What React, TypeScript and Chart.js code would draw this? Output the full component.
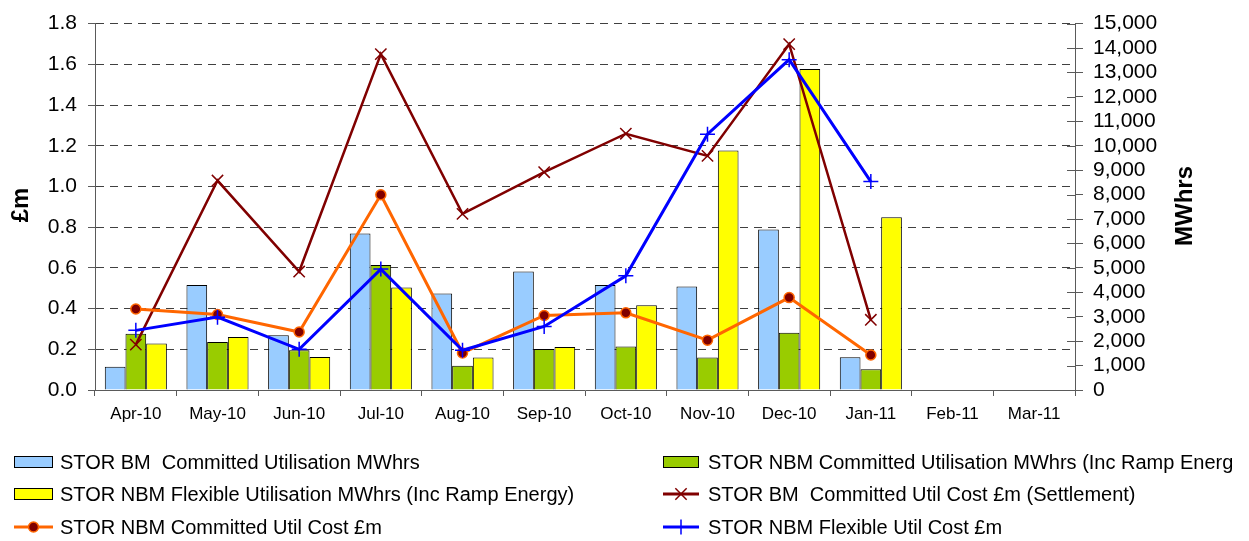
import React, { useEffect, useRef } from "react";
import { Chart, registerables } from "chart.js";

Chart.register(...registerables);

const months = ["Apr-10", "May-10", "Jun-10", "Jul-10", "Aug-10", "Sep-10", "Oct-10", "Nov-10", "Dec-10", "Jan-11", "Feb-11", "Mar-11"];

const bmCommittedMWh = [950, 4300, 2240, 6410, 3950, 4850, 4300, 4240, 6570, 1340, null, null];
const nbmCommittedMWh = [2300, 1960, 1630, 5120, 990, 1680, 1780, 1330, 2340, 850, null, null];
const nbmFlexibleMWh = [1900, 2170, 1350, 4200, 1330, 1760, 3470, 9800, 13140, 7070, null, null];

const bmCommittedCost = [0.223, 1.029, 0.582, 1.65, 0.865, 1.07, 1.259, 1.15, 1.699, 0.345, null, null];
const nbmCommittedCost = [0.398, 0.371, 0.285, 0.959, 0.182, 0.366, 0.379, 0.245, 0.454, 0.172, null, null];
const nbmFlexibleCost = [0.293, 0.358, 0.2, 0.594, 0.195, 0.312, 0.561, 1.257, 1.623, 1.024, null, null];

const seriesLabels = [
  "STOR BM  Committed Utilisation MWhrs",
  "STOR NBM Committed Utilisation MWhrs (Inc Ramp Energy)",
  "STOR NBM Flexible Utilisation MWhrs (Inc Ramp Energy)",
  "STOR BM  Committed Util Cost £m (Settlement)",
  "STOR NBM Committed Util Cost £m",
  "STOR NBM Flexible Util Cost £m",
];

const leftTitle = "£m";
const rightTitle = "MWhrs";

const FONT = '"Liberation Sans", Arial, sans-serif';
const AXIS = "#5a5a5a";
const GRID = "#404040";

function drawMarker(ctx: CanvasRenderingContext2D, style: string, x: number, y: number, r: number, stroke: string, fill: string, lw: number) {
  ctx.save();
  ctx.lineWidth = lw;
  ctx.strokeStyle = stroke;
  ctx.fillStyle = fill;
  ctx.beginPath();
  if (style === "crossRot") {
    const d = r * Math.SQRT1_2;
    ctx.moveTo(x - d, y - d); ctx.lineTo(x + d, y + d);
    ctx.moveTo(x - d, y + d); ctx.lineTo(x + d, y - d);
    ctx.stroke();
  } else if (style === "cross") {
    ctx.moveTo(x - r, y); ctx.lineTo(x + r, y);
    ctx.moveTo(x, y - r); ctx.lineTo(x, y + r);
    ctx.stroke();
  } else {
    ctx.arc(x, y, r, 0, Math.PI * 2);
    ctx.fill();
    ctx.stroke();
  }
  ctx.restore();
}

const overlayPlugin = {
  id: "overlay",
  afterDraw(chart: any) {
    const ctx: CanvasRenderingContext2D = chart.ctx;
    const area = chart.chartArea;
    const y1 = chart.scales.y1;
    ctx.save();
    // inner half of the right axis ticks
    ctx.strokeStyle = AXIS;
    ctx.lineWidth = 1;
    y1.ticks.forEach((t: any) => {
      const py = Math.round(y1.getPixelForValue(t.value)) + 0.5;
      ctx.beginPath();
      ctx.moveTo(area.right - 8, py);
      ctx.lineTo(area.right, py);
      ctx.stroke();
    });
    // axis titles
    ctx.fillStyle = "#000";
    ctx.font = `bold 24px ${FONT}`;
    ctx.textAlign = "center";
    ctx.textBaseline = "middle";
    ctx.save();
    ctx.translate(21, 205);
    ctx.rotate(-Math.PI / 2);
    ctx.fillText(leftTitle, 0, 0);
    ctx.restore();
    ctx.save();
    ctx.translate(1185, 206);
    ctx.rotate(-Math.PI / 2);
    ctx.fillText(rightTitle, 0, 0);
    ctx.restore();

    // legend (clipped at its box's right edge, as in the reference)
    const rowsY = [462, 494, 527];
    const markX = [14, 663];
    const markW = [39, 36];
    const textX = [60, 708];
    ctx.beginPath();
    ctx.rect(0, 430, 1232, 111);
    ctx.clip();
    ctx.font = `20px ${FONT}`;
    ctx.textAlign = "left";
    ctx.textBaseline = "middle";
    chart.data.datasets.forEach((ds: any, i: number) => {
      const col = i % 2;
      const row = Math.floor(i / 2);
      const x0 = markX[col];
      const y = rowsY[row];
      const w = markW[col];
      if (ds.type === "bar") {
        ctx.fillStyle = ds.backgroundColor;
        ctx.fillRect(x0, y - 6, w, 12);
        ctx.strokeStyle = "#000";
        ctx.lineWidth = 1;
        ctx.strokeRect(x0 + 0.5, y - 5.5, w - 1, 11);
      } else {
        ctx.strokeStyle = ds.borderColor;
        ctx.lineWidth = 3;
        ctx.beginPath();
        ctx.moveTo(x0, y);
        ctx.lineTo(x0 + w, y);
        ctx.stroke();
        drawMarker(ctx, ds.pointStyle, x0 + w / 2, y, ds.pointRadius, ds.pointBorderColor, ds.pointBackgroundColor, ds.pointBorderWidth);
      }
      ctx.fillStyle = "#000";
      ctx.fillText(ds.label, textX[col], y + 1);
    });
    ctx.restore();
  },
};

export default function App() {
  const ref = useRef<HTMLCanvasElement | null>(null);

  useEffect(() => {
    if (!ref.current) return;
    const barCommon = { type: "bar" as const, yAxisID: "y1", borderColor: "#000", borderWidth: 1, barPercentage: 1, categoryPercentage: 0.76 };
    const chart = new Chart(ref.current, {
      type: "bar",
      data: {
        labels: months,
        datasets: [
          { ...barCommon, label: seriesLabels[0], data: bmCommittedMWh, backgroundColor: "#99CCFF", order: 3 },
          { ...barCommon, label: seriesLabels[1], data: nbmCommittedMWh, backgroundColor: "#99CC00", order: 4 },
          { ...barCommon, label: seriesLabels[2], data: nbmFlexibleMWh, backgroundColor: "#FFFF00", order: 5 },
          {
            type: "line", label: seriesLabels[3], data: bmCommittedCost, yAxisID: "y", order: 2,
            borderColor: "#800000", borderWidth: 2.5, pointStyle: "crossRot", pointRadius: 8,
            pointBorderColor: "#800000", pointBackgroundColor: "#800000", pointBorderWidth: 1.5, tension: 0,
          },
          {
            type: "line", label: seriesLabels[4], data: nbmCommittedCost, yAxisID: "y", order: 1,
            borderColor: "#FF6600", borderWidth: 3, pointStyle: "circle", pointRadius: 5,
            pointBorderColor: "#FF6600", pointBackgroundColor: "#800000", pointBorderWidth: 1.5, tension: 0,
          },
          {
            type: "line", label: seriesLabels[5], data: nbmFlexibleCost, yAxisID: "y", order: 0,
            borderColor: "#0000FF", borderWidth: 3, pointStyle: "cross", pointRadius: 7.5,
            pointBorderColor: "#0000FF", pointBackgroundColor: "#0000FF", pointBorderWidth: 1.5, tension: 0,
          },
        ] as any,
      },
      options: {
        animation: false,
        responsive: false,
        layout: { padding: { left: 0, right: 0, top: 21, bottom: 0 } },
        plugins: { legend: { display: false }, tooltip: { enabled: false } },
        scales: {
          x: {
            afterFit: (s: any) => { s.height = 151; },
            grid: { display: true, drawOnChartArea: false, drawTicks: true, tickLength: 6, offset: true, color: AXIS, tickColor: AXIS },
            border: { color: AXIS, width: 1 },
            ticks: { color: "#000", font: { family: FONT, size: 17 }, padding: 8, maxRotation: 0, autoSkip: false },
          },
          y: {
            position: "left",
            min: 0, max: 1.8,
            afterFit: (s: any) => { s.width = 95; },
            grid: {
              color: (c: any) => (c.tick && c.tick.value === 0 ? "rgba(0,0,0,0)" : GRID),
              tickColor: AXIS, tickLength: 7, drawOnChartArea: true,
            },
            border: { color: AXIS, width: 1, dash: [8, 6] },
            ticks: { stepSize: 0.2, autoSkip: false, color: "#000", font: { family: FONT, size: 21 }, padding: 11, callback: (v: any) => Number(v).toFixed(1) },
          },
          y1: {
            position: "right",
            min: 0, max: 15000,
            afterFit: (s: any) => { s.width = 174; },
            grid: { drawOnChartArea: false, tickColor: AXIS, tickLength: 8, color: AXIS },
            border: { color: AXIS, width: 1 },
            ticks: { stepSize: 1000, autoSkip: false, color: "#000", font: { family: FONT, size: 21 }, padding: 10, callback: (v: any) => Number(v).toLocaleString("en-US") },
          },
        },
      } as any,
      plugins: [overlayPlugin],
    });
    return () => chart.destroy();
  }, []);

  return (
    <div style={{ position: "absolute", left: 0, top: 0, width: 1249, height: 541, background: "#fff" }}>
      <canvas ref={ref} width={1249} height={541} style={{ display: "block" }} />
    </div>
  );
}
